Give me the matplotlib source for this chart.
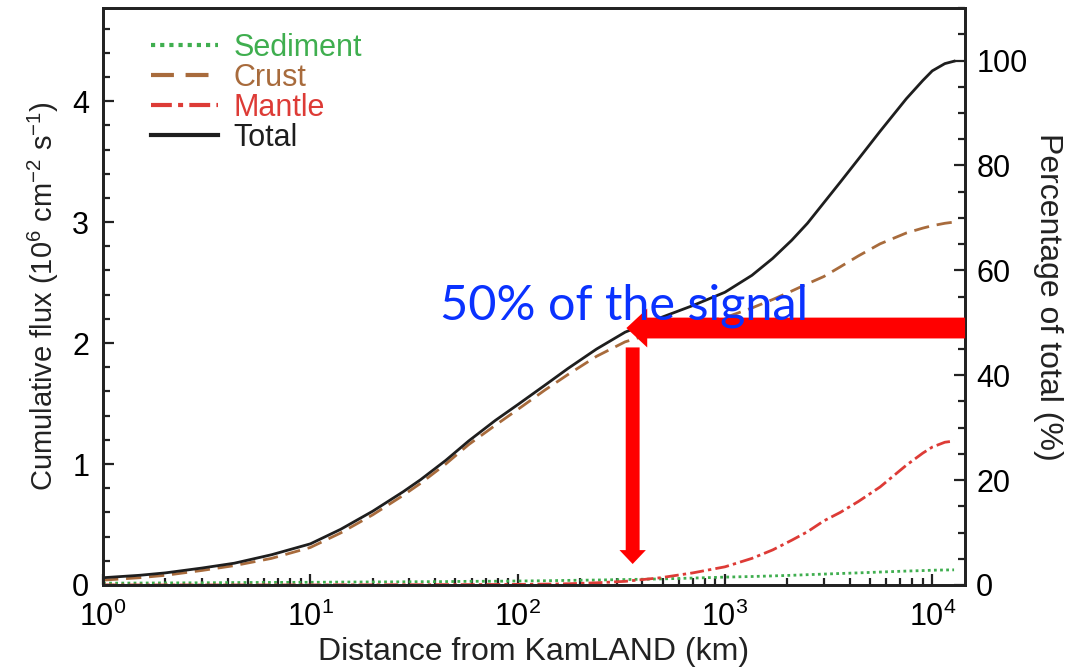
import matplotlib
matplotlib.use("Agg")
import matplotlib.pyplot as plt
from matplotlib.ticker import MultipleLocator, LogLocator

# ---- cumulative geoneutrino flux vs distance from KamLAND ----
distance_km = [1, 1.5, 2, 3, 4.3, 6.5, 10, 14, 20, 28, 34, 45, 58, 78, 100,
               135, 175, 240, 330, 490, 700, 1000, 1350, 1700, 2100, 2500,
               3000, 3600, 4400, 5600, 7500, 9000, 10000, 11500, 12742]

sediment = [0.015, 0.016, 0.017, 0.018, 0.02, 0.021, 0.022, 0.024, 0.025,
            0.026, 0.027, 0.028, 0.03, 0.031, 0.033, 0.035, 0.038, 0.041,
            0.045, 0.05, 0.057, 0.065, 0.07, 0.075, 0.08, 0.085, 0.09,
            0.095, 0.1, 0.107, 0.115, 0.119, 0.122, 0.124, 0.125]

crust = [0.04, 0.06, 0.08, 0.12, 0.16, 0.22, 0.31, 0.43, 0.58, 0.74, 0.84,
         1.0, 1.16, 1.32, 1.45, 1.61, 1.74, 1.89, 2.01, 2.1, 2.16, 2.21,
         2.29, 2.36, 2.43, 2.49, 2.55, 2.63, 2.72, 2.82, 2.91, 2.95, 2.97,
         2.99, 3.0]

mantle = [0.0, 0.0, 0.0, 0.0, 0.0, 0.0, 0.0, 0.001, 0.001, 0.002, 0.002,
          0.003, 0.003, 0.004, 0.005, 0.007, 0.01, 0.018, 0.03, 0.06, 0.1,
          0.15, 0.22, 0.29, 0.37, 0.44, 0.53, 0.6, 0.69, 0.81, 0.99, 1.09,
          1.14, 1.18, 1.19]

total = [0.06, 0.08, 0.1, 0.14, 0.18, 0.25, 0.34, 0.46, 0.61, 0.77, 0.87,
         1.03, 1.19, 1.36, 1.49, 1.65, 1.79, 1.95, 2.09, 2.21, 2.31, 2.42,
         2.56, 2.70, 2.85, 2.99, 3.16, 3.33, 3.52, 3.75, 4.02, 4.17, 4.25,
         4.31, 4.33]

full_signal = 4.335        # flux that corresponds to 100 %
half_mark_pct = 49         # level of the horizontal arrow
half_dist_km = 345         # where it meets the total curve

# ---- style ----
plt.rcParams["font.family"] = ["Liberation Sans", "DejaVu Sans"]
plt.rcParams["mathtext.fontset"] = "custom"
plt.rcParams["mathtext.rm"] = "Liberation Sans"
plt.rcParams["mathtext.it"] = "Liberation Sans:italic"
plt.rcParams["mathtext.bf"] = "Liberation Sans:bold"

c_sed = "#3fae4f"
c_crust = "#a86b3c"
c_mantle = "#dd3b36"
c_total = "#1e1e1e"
c_axis = "#222222"

fig = plt.figure(figsize=(10.71, 6.70), dpi=100)
ax = fig.add_axes([0.0962, 0.1269, 0.8049, 0.8612])
ax2 = ax.twinx()

lw = 2.0
ax.plot(distance_km, sediment, color=c_sed, lw=lw, ls=(0, (1, 1.2)),
        label="Sediment")
ax.plot(distance_km, crust, color=c_crust, lw=lw, ls=(0, (5.5, 2.8)),
        label="Crust")
ax.plot(distance_km, mantle, color=c_mantle, lw=lw,
        ls=(0, (5, 1.5, 1.2, 1.5)), label="Mantle")
ax.plot(distance_km, total, color=c_total, lw=lw, label="Total")

ax.set_xscale("log")
ax.set_xlim(1, 14400)
ax.set_ylim(0, 4.77)
ax2.set_ylim(0, 4.77 / full_signal * 100)

ax.yaxis.set_major_locator(MultipleLocator(1))
ax.yaxis.set_minor_locator(MultipleLocator(0.2))
ax2.yaxis.set_major_locator(MultipleLocator(20))
ax2.yaxis.set_minor_locator(MultipleLocator(5))
ax.xaxis.set_minor_locator(LogLocator(base=10, subs=range(2, 10), numticks=20))

for a in (ax, ax2):
    for s in a.spines.values():
        s.set_linewidth(2.0)
        s.set_color(c_axis)
ax.tick_params(which="both", direction="in", labelsize=22, width=1.6,
               color=c_axis, top=False, right=False)
ax.tick_params(which="major", length=8)
ax.tick_params(which="minor", length=5)
ax.tick_params(axis="y", pad=10)
ax.tick_params(axis="x", pad=12)
ax2.tick_params(which="both", direction="in", labelsize=22, width=1.6,
                color=c_axis)
ax2.tick_params(which="major", length=8, pad=8)
ax2.tick_params(which="minor", length=5)

ax.set_xlabel("Distance from KamLAND (km)", fontsize=23, color=c_axis,
              labelpad=3)
ax.set_ylabel(r"Cumulative flux (10$^6$ cm$^{-2}$ s$^{-1}$)", fontsize=21,
              color=c_axis, labelpad=8)
ax2.set_ylabel("Percentage of total (%)", fontsize=23, color=c_axis,
               rotation=270, va="bottom", labelpad=4)

leg = ax.legend(loc="upper left", bbox_to_anchor=(0.02, 1.01), frameon=False,
                fontsize=22, handlelength=2.2, handletextpad=0.5,
                labelspacing=0.0, borderpad=0.5)
for line, txt in zip(leg.get_lines(), leg.get_texts()):
    line.set_linewidth(3)
    txt.set_color(line.get_color())

# ---- 50 % annotation ----
ax2.annotate("", xy=(half_dist_km * 0.97, half_mark_pct),
             xytext=(14400, half_mark_pct),
             arrowprops=dict(arrowstyle="simple,head_length=15,head_width=28,tail_width=15",
                             mutation_scale=1, color="#ff0000", lw=0,
                             shrinkA=0, shrinkB=0), zorder=5)
ax2.annotate("", xy=(half_dist_km * 1.04, 4.0),
             xytext=(half_dist_km * 1.04, 45.3),
             arrowprops=dict(arrowstyle="simple,head_length=10,head_width=19,tail_width=10",
                             mutation_scale=1, color="#ff0000", lw=0,
                             shrinkA=0, shrinkB=0), zorder=5)
ax2.text(42, 50.7, "50% of the signal", fontsize=35, family="Lato",
         color="#0a32ff", va="baseline", ha="left", zorder=6)

fig.savefig("out.png", dpi=100)
